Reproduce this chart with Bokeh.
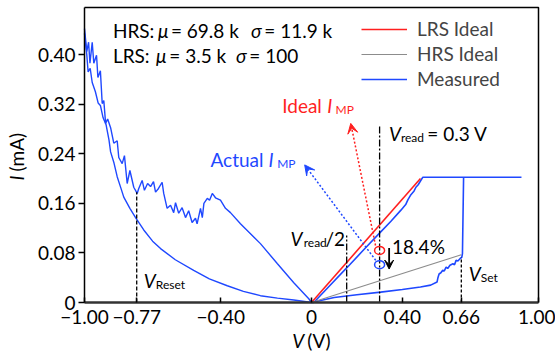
import numpy as np
from bokeh.plotting import figure
from bokeh.models import (Range1d, FixedTicker, Label, Arrow, VeeHead,
                          Legend, LegendItem)
from bokeh.embed import file_html
from bokeh.resources import INLINE

FONT = "Lato"
BLUE = "#1f48ff"
RED = "#ff1f1f"
GRAY = "#8c8c8c"

# ---------------- data ----------------
# measured, negative sweep, upper (noisy) branch
neg_up_v = [-1.000, -0.990, -0.982, -0.976, -0.966, -0.959, -0.947, -0.941, -0.930, -0.922,
            -0.915, -0.907, -0.898, -0.885, -0.871, -0.856, -0.849, -0.834, -0.824, -0.812,
            -0.800, -0.783, -0.768, -0.761, -0.746, -0.736, -0.722, -0.709, -0.696, -0.687,
            -0.674, -0.658, -0.651, -0.636, -0.621, -0.607, -0.599, -0.585, -0.570, -0.555,
            -0.541, -0.526, -0.511, -0.504, -0.489, -0.481, -0.474, -0.459, -0.449, -0.437,
            -0.423, -0.401, -0.379, -0.357, -0.313, -0.225, -0.151, -0.078, -0.012, 0.0]
neg_up_i = [0.442, 0.405, 0.420, 0.386, 0.420, 0.386, 0.399, 0.363, 0.374, 0.321,
            0.326, 0.289, 0.296, 0.282, 0.257, 0.261, 0.234, 0.224, 0.237, 0.192,
            0.213, 0.186, 0.176, 0.184, 0.197, 0.181, 0.192, 0.187, 0.195, 0.178,
            0.184, 0.194, 0.176, 0.152, 0.157, 0.145, 0.161, 0.144, 0.153, 0.137,
            0.148, 0.129, 0.136, 0.127, 0.152, 0.137, 0.160, 0.168, 0.165, 0.176,
            0.169, 0.165, 0.152, 0.145, 0.127, 0.095, 0.063, 0.032, 0.006, 0.0]
# measured, negative sweep, lower branch
neg_low_v = [-1.000, -0.990, -0.984, -0.975, -0.966, -0.952, -0.940, -0.930, -0.918, -0.905,
             -0.892, -0.885, -0.870, -0.856, -0.840, -0.827, -0.800, -0.775, -0.739, -0.700,
             -0.665, -0.600, -0.519, -0.450, -0.371, -0.300, -0.225, -0.150, -0.078, 0.0]
neg_low_i = [0.434, 0.400, 0.372, 0.378, 0.355, 0.340, 0.322, 0.318, 0.298, 0.287,
             0.262, 0.243, 0.225, 0.203, 0.185, 0.170, 0.152, 0.137, 0.117, 0.099,
             0.087, 0.069, 0.052, 0.038, 0.027, 0.018, 0.011, 0.007, 0.004, 0.0]
# measured, positive sweep, LRS branch + compliance
pos_up_v = [0.0, 0.010, 0.080, 0.158, 0.230, 0.305, 0.350, 0.394, 0.415, 0.425,
            0.438, 0.452, 0.460, 0.470, 0.480, 0.490, 0.925]
pos_up_i = [0.0, 0.0, 0.027, 0.057, 0.085, 0.114, 0.131, 0.149, 0.158, 0.166,
            0.174, 0.180, 0.186, 0.190, 0.196, 0.202, 0.202]
# measured, positive sweep, HRS branch up to set
pos_low_v = [0.0, 0.050, 0.100, 0.200, 0.305, 0.400, 0.480, 0.525, 0.553, 0.557,
             0.562, 0.570, 0.578, 0.585, 0.593, 0.600, 0.610, 0.623, 0.630, 0.637,
             0.645, 0.655, 0.662, 0.665, 0.670]
pos_low_i = [0.0, 0.004, 0.008, 0.0125, 0.0167, 0.021, 0.025, 0.028, 0.033, 0.040,
             0.046, 0.048, 0.052, 0.051, 0.057, 0.055, 0.060, 0.0625, 0.061, 0.068,
             0.067, 0.071, 0.073, 0.079, 0.202]
# ideal lines
lrs_ideal_v = [0.0, 0.48]
lrs_ideal_i = [0.0, 0.200]
hrs_ideal_v = [0.0, 0.66]
hrs_ideal_i = [0.0, 0.077]
# characteristic voltages and currents
v_reset, v_reset_top = -0.77, 0.178
v_half, v_half_top = 0.155, 0.108
v_read, v_read_top = 0.30, 0.286
v_set, v_set_top = 0.66, 0.073
imp_ideal = 0.084
imp_actual = 0.061

x_ticks = [-1.00, -0.77, -0.40, 0.0, 0.40, 0.66, 1.00]
x_tick_labels = ["\u22121.00", "\u22120.77", "\u22120.40", "0", "0.40", "0.66", "1.00"]
y_ticks = [0.0, 0.08, 0.16, 0.24, 0.32, 0.40]
y_tick_labels = ["0", "0.08", "0.16", "0.24", "0.32", "0.40"]

# axes box (data limits)
x_lo, x_hi = -1.0, 1.0
y_lo, y_hi = 0.0, 0.476

# ---------------- figure ----------------
W, H = 555, 354
box_left, box_right, box_top, box_bottom = 84, 538, 7, 302   # pixel box of the axes
sx = (box_right - box_left) / (x_hi - x_lo)
sy = (box_bottom - box_top) / (y_hi - y_lo)
xr = Range1d(x_lo - box_left / sx, x_hi + (W - box_right) / sx)
yr = Range1d(y_lo - (H - box_bottom) / sy, y_hi + box_top / sy)

p = figure(width=W, height=H, output_backend="svg", toolbar_location=None,
           x_range=xr, y_range=yr, min_border=0)
p.xgrid.grid_line_color = None
p.ygrid.grid_line_color = None
p.outline_line_color = None
p.background_fill_color = "white"
p.border_fill_color = "white"

p.xaxis.fixed_location = y_lo
p.yaxis.fixed_location = x_lo
p.xaxis.bounds = (x_lo, x_hi)
p.yaxis.bounds = (y_lo, y_hi)

def overrides(ticks, labels):
    d = {}
    for t, l in zip(ticks, labels):
        d[t] = l
    return d

p.xaxis.ticker = FixedTicker(ticks=x_ticks)
p.xaxis.major_label_overrides = overrides(x_ticks, x_tick_labels)
p.yaxis.ticker = FixedTicker(ticks=y_ticks)
p.yaxis.major_label_overrides = overrides(y_ticks, y_tick_labels)
for ax in (p.xaxis[0], p.yaxis[0]):
    ax.major_label_text_font = FONT
    ax.major_label_text_font_size = "19px"
    ax.major_label_text_color = "black"
    ax.minor_tick_line_color = None
    ax.major_tick_line_color = "black"
    ax.major_tick_line_width = 1.5
p.xaxis.axis_line_color = "#333333"
p.xaxis.axis_line_width = 2.5
p.xaxis.major_tick_in = 5
p.xaxis.major_tick_out = 0
p.xaxis.major_label_standoff = 7
p.yaxis.axis_line_color = "black"
p.yaxis.axis_line_width = 1.5
p.yaxis.major_tick_in = 0
p.yaxis.major_tick_out = 6
p.yaxis.major_label_standoff = 3

# top and right edges of the axes box
p.line([x_lo, x_hi, x_hi], [y_hi, y_hi, y_lo], line_color="black", line_width=1.5)

# ---------------- glyphs ----------------
r_meas = p.line(neg_up_v, neg_up_i, line_color=BLUE, line_width=1.4)
p.line(neg_low_v, neg_low_i, line_color=BLUE, line_width=1.4)
p.line(pos_up_v, pos_up_i, line_color=BLUE, line_width=1.6)
p.line(pos_low_v, pos_low_i, line_color=BLUE, line_width=1.6)
r_lrs = p.line(lrs_ideal_v, lrs_ideal_i, line_color=RED, line_width=1.6)
r_hrs = p.line(hrs_ideal_v, hrs_ideal_i, line_color=GRAY, line_width=1.2)

p.segment([v_reset], [0], [v_reset], [v_reset_top], line_color="black", line_width=1.3, line_dash="4 2")
p.segment([v_half], [0], [v_half], [v_half_top], line_color="black", line_width=1.3, line_dash="7 2 2 2")
p.segment([v_read], [0], [v_read], [v_read_top], line_color="black", line_width=1.3, line_dash="7 2 2 2")
p.segment([v_set], [0], [v_set], [v_set_top], line_color="black", line_width=1.3, line_dash="3 2")

p.ellipse([v_read], [imp_ideal], width=10, height=8, width_units="screen", height_units="screen",
          fill_color=None, line_color=RED, line_width=1.5)
p.ellipse([v_read], [imp_actual], width=10, height=8, width_units="screen", height_units="screen",
          fill_color=None, line_color=BLUE, line_width=1.5)

p.add_layout(Arrow(x_start=0.282, y_start=0.092, x_end=0.173, y_end=0.289,
                   line_color=RED, line_width=1.5, line_dash="2 2",
                   end=VeeHead(size=10, fill_color=RED, line_color=RED)))
p.add_layout(Arrow(x_start=0.283, y_start=0.068, x_end=-0.03, y_end=0.222,
                   line_color=BLUE, line_width=1.5, line_dash="2 2",
                   end=VeeHead(size=10, fill_color=BLUE, line_color=BLUE)))
p.add_layout(Arrow(x_start=0.342, y_start=0.088, x_end=0.342, y_end=0.054,
                   line_color="black", line_width=1.8,
                   end=VeeHead(size=9, fill_color="black", line_color="black")))

# ---------------- legend ----------------
legend = Legend(items=[LegendItem(label="LRS Ideal", renderers=[r_lrs]),
                       LegendItem(label="HRS Ideal", renderers=[r_hrs]),
                       LegendItem(label="Measured", renderers=[r_meas])],
                location=(361, 264), glyph_width=46, glyph_height=20, label_standoff=10,
                spacing=2, padding=0, margin=0, border_line_color=None,
                background_fill_alpha=0, label_text_font=FONT, label_text_font_size="19px")
p.add_layout(legend)

# ---------------- texts ----------------
LIFT = 7  # px correction so the glyph baseline sits where intended

def rich(x, y, parts, color="black", angle=0.0):
    for text, off, size, italic, dy in parts:
        if angle:
            xo, yo = -(dy + LIFT), off
        else:
            xo, yo = off, dy + LIFT
        p.add_layout(Label(x=x, y=y, x_offset=xo, y_offset=yo, text=text, angle=angle,
                           text_font=FONT, text_font_size=f"{size}px",
                           text_font_style="italic" if italic else "normal",
                           text_color=color, text_baseline="alphabetic", text_align="left"))

rich(-0.875, 0.428, [("HRS:", 0, 19, False, 0), ("\u03bc", 45, 19, True, 0),
                     ("= 69.8 k", 58, 19, False, 0), ("\u03c3", 138, 19, True, 0),
                     ("= 11.9 k", 151.4, 19, False, 0)])
rich(-0.875, 0.388, [("LRS:", 0, 19, False, 0), ("\u03bc", 43, 19, True, 0),
                     ("= 3.5 k", 56.4, 19, False, 0), ("\u03c3", 123, 19, True, 0),
                     ("= 100", 136.4, 19, False, 0)])
rich(-0.129, 0.307, [("Ideal", 0, 19, False, 0), ("I", 45, 19, True, 0),
                     ("MP", 53.3, 12, False, -4)], color=RED)
rich(-0.445, 0.219, [("Actual", 0, 19, False, 0), ("I", 58, 19, True, 0),
                     ("MP", 66.7, 12, False, -4)], color=BLUE)
rich(0.341, 0.261, [("V", 0, 19, True, 0), ("read", 12, 12, False, -4),
                    ("= 0.3 V", 38.4, 19, False, 0)])
rich(-0.093, 0.092, [("V", 0, 19, True, 0), ("read", 13.3, 12, False, -4),
                     ("/2", 35, 19, False, 0)])
rich(0.355, 0.0786, [("18.4%", 0, 19, False, 0)])
rich(-0.739, 0.0247, [("V", 0, 19, True, 0), ("Reset", 12, 12, False, -4)])
rich(0.693, 0.0355, [("V", 0, 19, True, 0), ("Set", 12, 12, False, -4)])

# axis titles
rich(-1.269, 0.197, [("I", 0, 19, True, 0), ("(mA)", 9, 19, False, 0)], angle=np.pi / 2)
rich(-0.085, -0.0721, [("V", 0, 19, True, 0), ("(V)", 15, 19, False, 0)])

open("out.html", "w").write(file_html(p, INLINE))
